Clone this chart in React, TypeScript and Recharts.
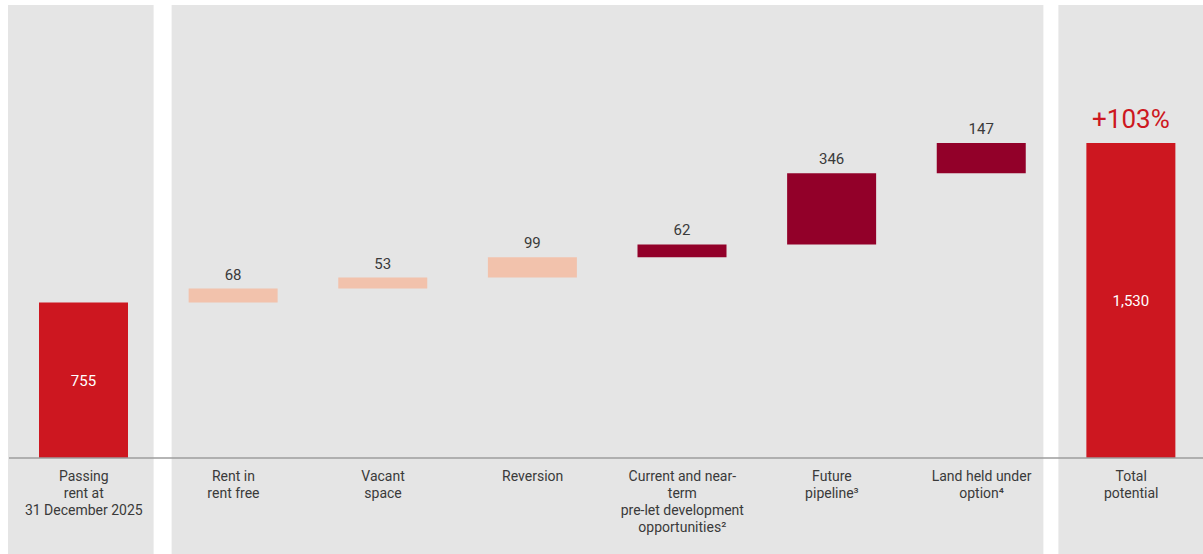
import React from "react";
import {
  BarChart,
  Bar,
  XAxis,
  YAxis,
  Cell,
  LabelList,
  ReferenceArea,
} from "recharts";

const categories = [
  "Passing\nrent at\n31 December 2025",
  "Rent in\nrent free",
  "Vacant\nspace",
  "Reversion",
  "Current and near-\nterm\npre-let development\nopportunities\u00B2",
  "Future\npipeline\u00B3",
  "Land held under\noption\u2074",
  "Total\npotential",
];
const values = [755, 68, 53, 99, 62, 346, 147, 1530];
const kinds = ["total", "light", "light", "light", "dark", "dark", "dark", "total"];
const valueLabels = ["755", "68", "53", "99", "62", "346", "147", "1,530"];
const totalChange = "+103%";

const COLORS: Record<string, string> = {
  total: "#cd1720",
  light: "#f2c2ac",
  dark: "#920029",
};
const FONT = "Roboto, 'Noto Sans', sans-serif";
const TEXT = "#3a3a3a";
const PANEL = "#e5e5e5";
const WIDTH = 1203;
const HEIGHT = 554;

// running total gives the invisible base of each step
let running = 0;
const data = categories.map((name, i) => {
  const isTotal = kinds[i] === "total";
  const base = isTotal ? 0 : running;
  running = isTotal ? values[i] : running + values[i];
  return { name, base, value: values[i], label: valueLabels[i], kind: kinds[i] };
});

const panels = [
  { x1: categories[0], x2: categories[0], insetL: -1, insetR: 5 },
  { x1: categories[1], x2: categories[6], insetL: 13, insetR: 13 },
  { x1: categories[7], x2: categories[7], insetL: 2, insetR: 0 },
];

const CategoryTick = (props: any) => {
  const { x, y, payload } = props;
  const lines = String(payload.value).split("\n");
  return (
    <text
      x={x}
      y={y}
      textAnchor="middle"
      fill={TEXT}
      fontSize={14}
      fontFamily={FONT}
    >
      {lines.map((line, i) => (
        <tspan key={i} x={x} dy={i === 0 ? 15 : 17}>
          {line}
        </tspan>
      ))}
    </text>
  );
};

const ValueLabel = (props: any) => {
  const { x, y, width, height, index } = props;
  const d = data[index];
  const cx = x + width / 2;
  if (d.kind === "total") {
    return (
      <g>
        <text
          x={cx}
          y={y + height / 2 + 6}
          textAnchor="middle"
          fill="#ffffff"
          fontSize={15}
          fontFamily={FONT}
        >
          {d.label}
        </text>
        {index === data.length - 1 && (
          <text
            x={cx}
            y={y - 15}
            textAnchor="middle"
            fill={COLORS.total}
            fontSize={26}
            fontFamily={FONT}
          >
            {totalChange}
          </text>
        )}
      </g>
    );
  }
  return (
    <text
      x={cx}
      y={y - 9}
      textAnchor="middle"
      fill={TEXT}
      fontSize={15}
      fontFamily={FONT}
    >
      {d.label}
    </text>
  );
};

const App = () => {
  return (
    <div style={{ position: "fixed", top: 0, left: 0, background: "#fff" }}>
      <BarChart
        width={WIDTH}
        height={HEIGHT}
        data={data}
        margin={{ top: 5, right: -3, bottom: 0, left: 9 }}
        barCategoryGap={0}
      >
        {panels.map((p, i) => (
          <ReferenceArea
            key={i}
            x1={p.x1}
            x2={p.x2}
            ifOverflow="visible"
            shape={(s: any) => (
              <rect
                x={s.x + p.insetL}
                y={s.y}
                width={s.width - p.insetL - p.insetR}
                height={HEIGHT - s.y}
                fill={PANEL}
              />
            )}
          />
        ))}
        <XAxis
          dataKey="name"
          type="category"
          interval={0}
          height={96}
          tickLine={false}
          axisLine={{ stroke: "#9c9c9c", strokeWidth: 1.5 }}
          tick={<CategoryTick />}
        />
        <YAxis hide domain={[0, 2200]} />
        <Bar
          dataKey="base"
          stackId="a"
          fill="transparent"
          barSize={89}
          isAnimationActive={false}
        />
        <Bar
          dataKey="value"
          stackId="a"
          barSize={89}
          isAnimationActive={false}
        >
          {data.map((d, i) => (
            <Cell key={i} fill={COLORS[d.kind]} />
          ))}
          <LabelList dataKey="value" content={<ValueLabel />} />
        </Bar>
      </BarChart>
    </div>
  );
};

export default App;
